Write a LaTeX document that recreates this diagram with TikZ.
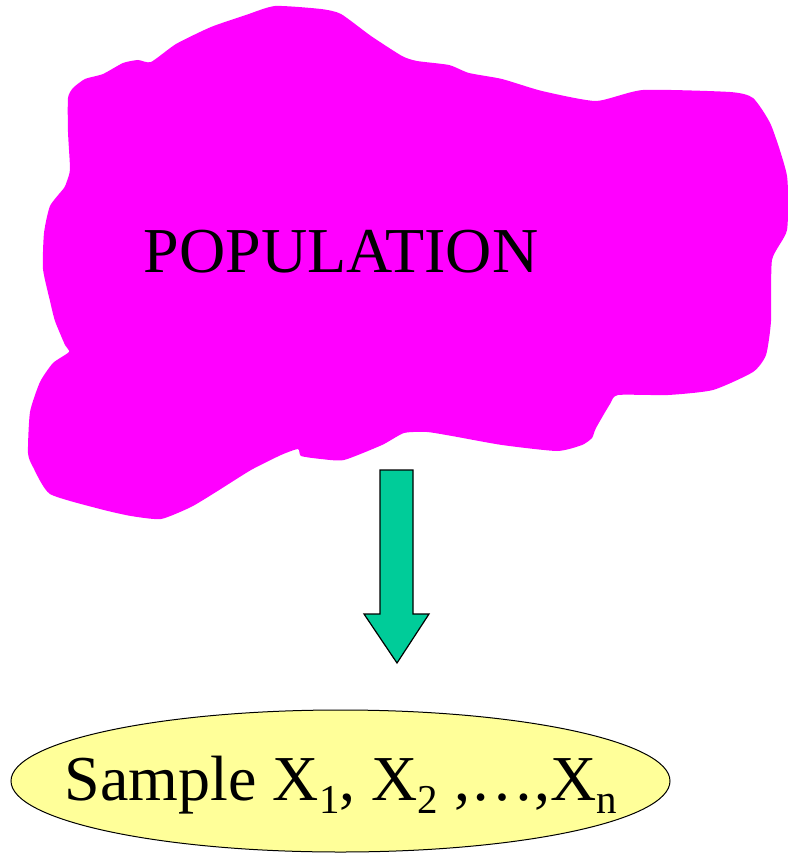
\documentclass[tikz,border=0pt]{standalone}
\usepackage{fontspec}
\setmainfont{Liberation Serif}
\usetikzlibrary{positioning,shapes.geometric}
\definecolor{PopMagenta}{HTML}{FF00FF}
\definecolor{PopGreen}{HTML}{00CC99}
\definecolor{PopYellow}{HTML}{FFFF99}
\newcommand{\lowsub}[1]{\raisebox{-13pt}{\fontsize{41}{42}\selectfont #1}}

\begin{document}
\begin{tikzpicture}[x=1pt, y=-1pt,
  lbl/.style={font=\fontsize{64}{70}\selectfont, inner sep=0pt},
  smp/.style={ellipse, draw=black, fill=PopYellow, line width=1pt,
    minimum width=659pt, minimum height=142pt, inner sep=0pt}]
  \useasboundingbox (0,0) rectangle (787,853);
  % population blob
  \fill[PopMagenta] plot[smooth cycle, tension=0.35] coordinates {
    (275,6) (321,9) (341,14) (371,36) (402,56) (417,61) (449,65) (469,73)
    (502,79) (542,91) (596,101) (643,90) (730,92) (753,98) (771,125)
    (787,176) (787,230) (772,260) (771,321) (766,355) (753,372) (713,390)
    (668,395) (618,395) (610,404) (596,428) (592,438) (582,445) (557,451)
    (502,445) (452,436) (427,432) (404,433) (382,445) (344,460) (321,459)
    (301,456) (298,449) (281,455) (251,470) (216,492) (191,507) (161,519)
    (131,516) (100,509) (50,494) (33,467) (28,453) (30,412) (40,382)
    (53,363) (69,352) (65,345) (55,321) (50,301) (43,269) (44,233)
    (50,206) (64,188) (67,181) (70,169) (68,132) (68,98) (73,88) (85,79)
    (103,74) (123,63) (138,60) (151,62) (176,44) (211,27) (246,15)};
  \node[lbl, anchor=base] (pop) at (341,272) {POPULATION};

  % block arrow
  \filldraw[fill=PopGreen, draw=black, line width=1.2pt, line join=miter]
    (380,470) -- (413,470) -- (413,614) -- (429,614) -- (397,663)
    -- (364,614) -- (380,614) -- cycle;

  % sample
  \node[smp] (sample) at (340.5,781) {};
  \node[lbl, font=\fontsize{64}{70}\selectfont, anchor=base] (samplbl) at (341,800)
    {Sample X\lowsub{1}, X\lowsub{2} ,…,X\lowsub{n}};
\end{tikzpicture}
\end{document}
